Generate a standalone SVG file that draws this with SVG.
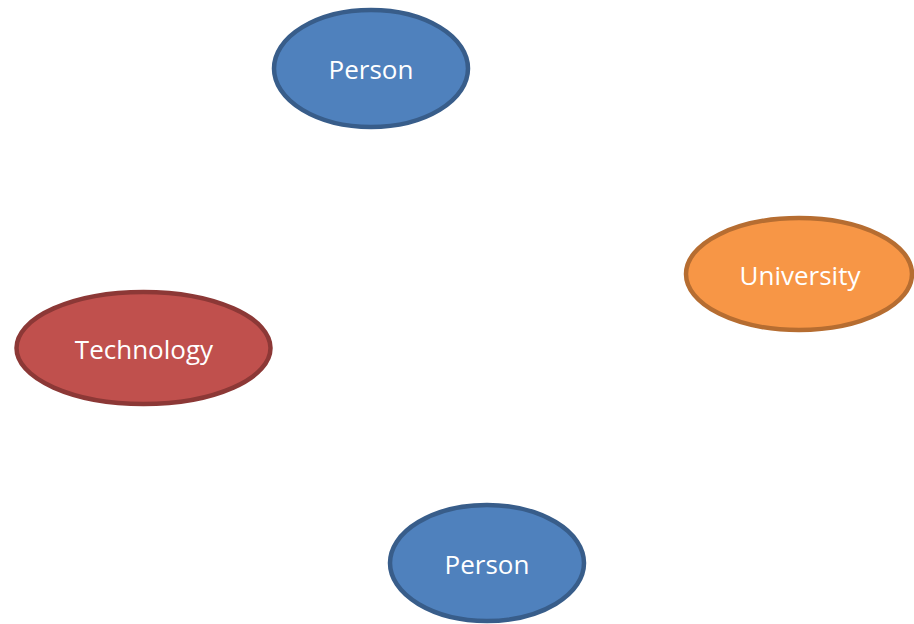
<svg xmlns="http://www.w3.org/2000/svg" width="914" height="624" viewBox="0 0 914 624">
  <style>
    .node { stroke-width: 4.5; }
    .person { fill: #4F81BD; stroke: #385D8A; }
    .univ { fill: #F79646; stroke: #B66D31; }
    .tech { fill: #C0504D; stroke: #8C3836; }
    .label { font-family: "Open Sans", "Liberation Sans", sans-serif; font-size: 26px; fill: #FFFFFF; text-anchor: middle; dominant-baseline: central; }
  </style>
  <rect width="914" height="624" fill="#FFFFFF"/>
  <g id="connectors"></g>
  <g id="person-top">
    <ellipse class="node person" cx="371" cy="68.5" rx="97" ry="58.5"/>
    <text class="label" x="371" y="69">Person</text>
  </g>
  <g id="university">
    <ellipse class="node univ" cx="799" cy="274" rx="113" ry="56"/>
    <text class="label" x="800" y="275">University</text>
  </g>
  <g id="technology">
    <ellipse class="node tech" cx="143.5" cy="348" rx="127" ry="56"/>
    <text class="label" x="144" y="349">Technology</text>
  </g>
  <g id="person-bottom">
    <ellipse class="node person" cx="487" cy="563" rx="97" ry="58"/>
    <text class="label" x="487" y="564">Person</text>
  </g>
</svg>
